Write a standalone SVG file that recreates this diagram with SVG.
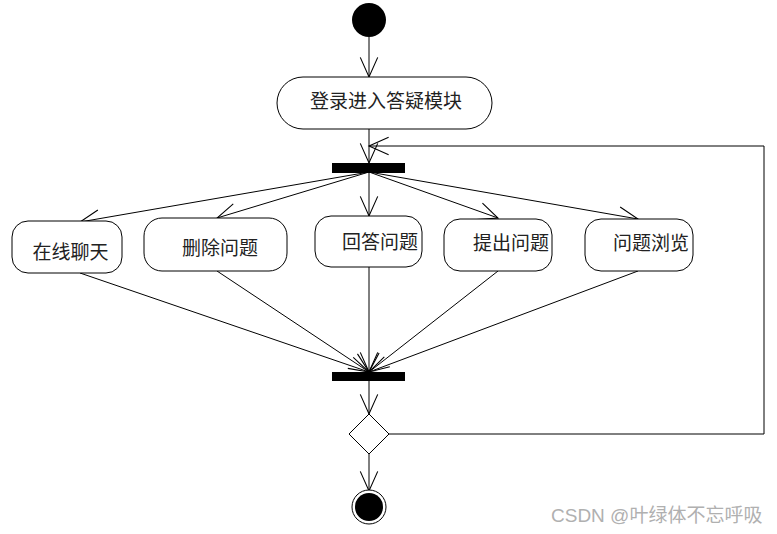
<svg xmlns="http://www.w3.org/2000/svg" width="777" height="534" viewBox="0 0 777 534">
<style>
.ln{stroke:#000;stroke-width:1;fill:none}
.box{fill:#fff;stroke:#000;stroke-width:1}
.t{font-family:"Noto Sans CJK SC","Liberation Serif",serif;font-size:19px;fill:#222;text-anchor:middle}
.wm{font-family:"Liberation Sans","Noto Sans CJK SC",sans-serif;font-size:19px;fill:#b0b0b0}
</style>
<defs>
<marker id="arr" markerUnits="userSpaceOnUse" markerWidth="24" markerHeight="24" viewBox="-20 -10 22 20" refX="0" refY="0" orient="auto">
<path d="M-18,-8 L0,0 L-18,8" fill="none" stroke="#000" stroke-width="1"/>
</marker>
</defs>
<rect width="777" height="534" fill="#fff"/>
<g id="connectors">
<line class="ln" x1="369" y1="37" x2="369" y2="77" marker-end="url(#arr)"/>
<line class="ln" x1="369" y1="129" x2="369" y2="163" marker-end="url(#arr)"/>
<polyline class="ln" points="389,434 764,434 764,146 369,146" marker-end="url(#arr)"/>
<line class="ln" x1="369" y1="172" x2="80" y2="222" marker-end="url(#arr)"/>
<line class="ln" x1="369" y1="172" x2="217" y2="218" marker-end="url(#arr)"/>
<line class="ln" x1="369" y1="172" x2="369" y2="216" marker-end="url(#arr)"/>
<line class="ln" x1="369" y1="172" x2="498" y2="218" marker-end="url(#arr)"/>
<line class="ln" x1="369" y1="172" x2="638" y2="219" marker-end="url(#arr)"/>
<line class="ln" x1="80" y1="273" x2="369" y2="372" marker-end="url(#arr)"/>
<line class="ln" x1="217" y1="271" x2="369" y2="372" marker-end="url(#arr)"/>
<line class="ln" x1="369" y1="267" x2="369" y2="372" marker-end="url(#arr)"/>
<line class="ln" x1="498" y1="271" x2="369" y2="372" marker-end="url(#arr)"/>
<line class="ln" x1="638" y1="271" x2="369" y2="372" marker-end="url(#arr)"/>
<line class="ln" x1="369" y1="381" x2="369" y2="414" marker-end="url(#arr)"/>
<line class="ln" x1="369" y1="454" x2="369" y2="491" marker-end="url(#arr)"/>
</g>
<g id="start"><circle cx="369" cy="20" r="17" fill="#000"/></g>
<g id="login">
<rect class="box" x="277" y="77" width="215" height="52" rx="26" ry="26"/>
<text class="t" x="386" y="108">登录进入答疑模块</text>
</g>
<g id="fork"><rect x="332" y="163" width="73" height="10" fill="#000"/></g>
<g id="chat">
<rect class="box" x="12" y="221" width="110" height="52" rx="16" ry="16"/>
<text class="t" x="70.5" y="259">在线聊天</text>
</g>
<g id="delete">
<rect class="box" x="144" y="218" width="143" height="53" rx="18" ry="18"/>
<text class="t" x="220" y="255">删除问题</text>
</g>
<g id="answer">
<rect class="box" x="315" y="216" width="107" height="51" rx="16" ry="16"/>
<text class="t" x="380" y="249">回答问题</text>
</g>
<g id="ask">
<rect class="box" x="444" y="219" width="108" height="52" rx="16" ry="16"/>
<text class="t" x="511" y="250">提出问题</text>
</g>
<g id="browse">
<rect class="box" x="585" y="219" width="108" height="52" rx="16" ry="16"/>
<text class="t" x="651" y="250">问题浏览</text>
</g>
<g id="join"><rect x="332" y="372" width="73" height="9" fill="#000"/></g>
<g id="decision"><polygon class="box" points="369,414 389,434 369,454 349,434"/></g>
<g id="end">
<circle cx="369" cy="507" r="17" fill="#fff" stroke="#000" stroke-width="1"/>
<circle cx="369" cy="507" r="14" fill="#000"/>
</g>
<text class="wm" x="551" y="522">CSDN @叶绿体不忘呼吸</text>
</svg>
